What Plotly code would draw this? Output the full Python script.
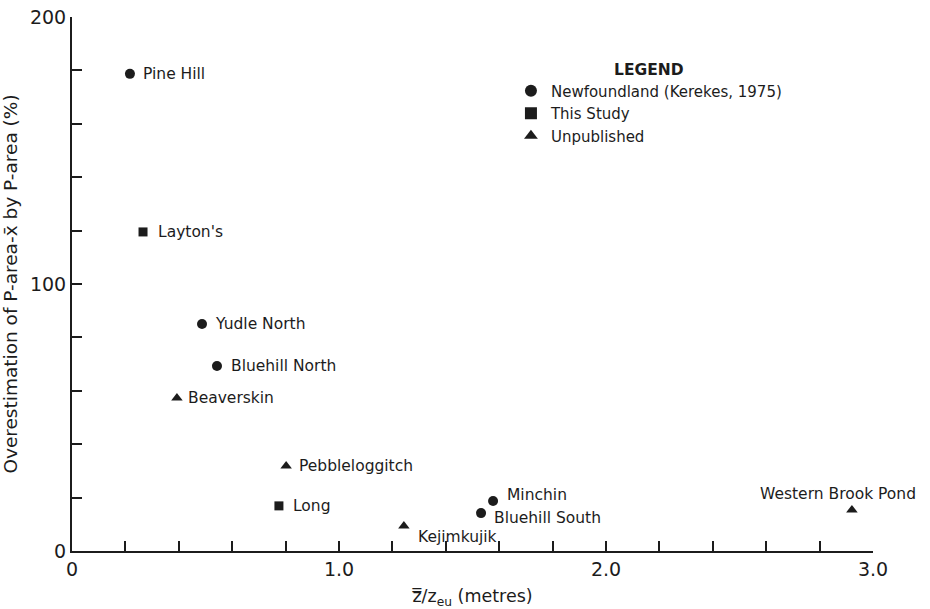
import plotly.graph_objects as go

# ---- data ----
groups = ["Newfoundland (Kerekes, 1975)", "This Study", "Unpublished"]

nf_names = ["Pine Hill", "Yudle North", "Bluehill North", "Minchin", "Bluehill South"]
nf_x = [0.217, 0.487, 0.543, 1.577, 1.532]
nf_y = [178.7, 85.0, 69.3, 18.7, 14.2]

ts_names = ["Layton's", "Long"]
ts_x = [0.266, 0.775]
ts_y = [119.5, 16.9]

un_names = ["Beaverskin", "Pebbleloggitch", "Kejimkujik", "Western Brook Pond"]
un_x = [0.393, 0.802, 1.243, 2.921]
un_y = [57.3, 31.8, 9.4, 15.4]

x_tickvals = [0, 0.2, 0.4, 0.6, 0.8, 1.0, 1.2, 1.4, 1.6, 1.8, 2.0, 2.2, 2.4, 2.6, 2.8, 3.0]
x_ticktext = ["0", "", "", "", "", "1.0", "", "", "", "", "2.0", "", "", "", "", "3.0"]
y_tickvals = [0, 20, 40, 60, 80, 100, 120, 140, 160, 180, 200]
y_ticktext = ["0", "", "", "", "", "100", "", "", "", "", "200"]

# label placement (pixel offsets from each point): (xanchor, xshift, yshift)
label_style = {
    "Pine Hill": ("left", 11, 0),
    "Layton's": ("left", 13, 0),
    "Yudle North": ("left", 11, 0),
    "Bluehill North": ("left", 12, 0),
    "Beaverskin": ("left", 9, 0),
    "Pebbleloggitch": ("left", 11, 0),
    "Long": ("left", 12, 0),
    "Kejimkujik": ("left", 12, -11),
    "Minchin": ("left", 12, 6),
    "Bluehill South": ("left", 11, -5),
    "Western Brook Pond": ("center", -14, 16),
}

INK = "#1c1c1c"
FONT = "DejaVu Sans"

fig = go.Figure()
series = [
    (groups[0], nf_names, nf_x, nf_y, "circle", 10),
    (groups[1], ts_names, ts_x, ts_y, "square", 9),
    (groups[2], un_names, un_x, un_y, "triangle-up", 10),
]
for name, names, xs, ys, sym, sz in series:
    fig.add_trace(go.Scatter(
        x=xs, y=ys, mode="markers", name=name, text=names,
        marker=dict(symbol=sym, size=sz, color=INK, line=dict(width=0)),
        cliponaxis=False, hoverinfo="text+x+y",
    ))
    for n, xv, yv in zip(names, xs, ys):
        anc, xs_, ys_ = label_style[n]
        fig.add_annotation(
            x=xv, y=yv, xref="x", yref="y", text=n, showarrow=False,
            xanchor=anc, yanchor="middle", xshift=xs_, yshift=ys_,
            font=dict(family=FONT, size=15.5, color=INK),
        )

fig.update_layout(
    width=930, height=609,
    margin=dict(l=72, r=57, t=17, b=58, autoexpand=False),
    paper_bgcolor="white", plot_bgcolor="white",
    font=dict(family=FONT, color=INK),
    showlegend=True,
    legend=dict(
        x=0.548, y=0.93, xanchor="left", yanchor="top",
        bgcolor="rgba(0,0,0,0)",
        font=dict(family=FONT, size=15, color=INK),
        title=dict(text="<b>LEGEND</b>", side="top center",
                   font=dict(family=FONT, size=15.5, color=INK)),
        itemsizing="constant", tracegroupgap=0,
    ),
    xaxis=dict(
        range=[0, 3], showgrid=False, zeroline=False, automargin=False,
        showline=True, linecolor=INK, linewidth=2,
        ticks="inside", ticklen=10, tickwidth=2, tickcolor=INK,
        tickmode="array", tickvals=x_tickvals, ticktext=x_ticktext,
        tickfont=dict(family=FONT, size=19, color=INK),
        title=dict(text="z\u033f/z<sub>eu</sub> (metres)",
                   font=dict(family=FONT, size=17.5, color=INK)),
    ),
    yaxis=dict(
        range=[0, 200], showgrid=False, zeroline=False, automargin=False,
        showline=True, linecolor=INK, linewidth=2,
        ticks="inside", ticklen=10, tickwidth=2, tickcolor=INK,
        tickmode="array", tickvals=y_tickvals, ticktext=y_ticktext,
        tickfont=dict(family=FONT, size=19, color=INK),
        title=dict(text="Overestimation of P-area-x\u0304 by P-area (%)",
                   font=dict(family=FONT, size=18.5, color=INK)),
    ),
)

fig.write_html("out.html")
